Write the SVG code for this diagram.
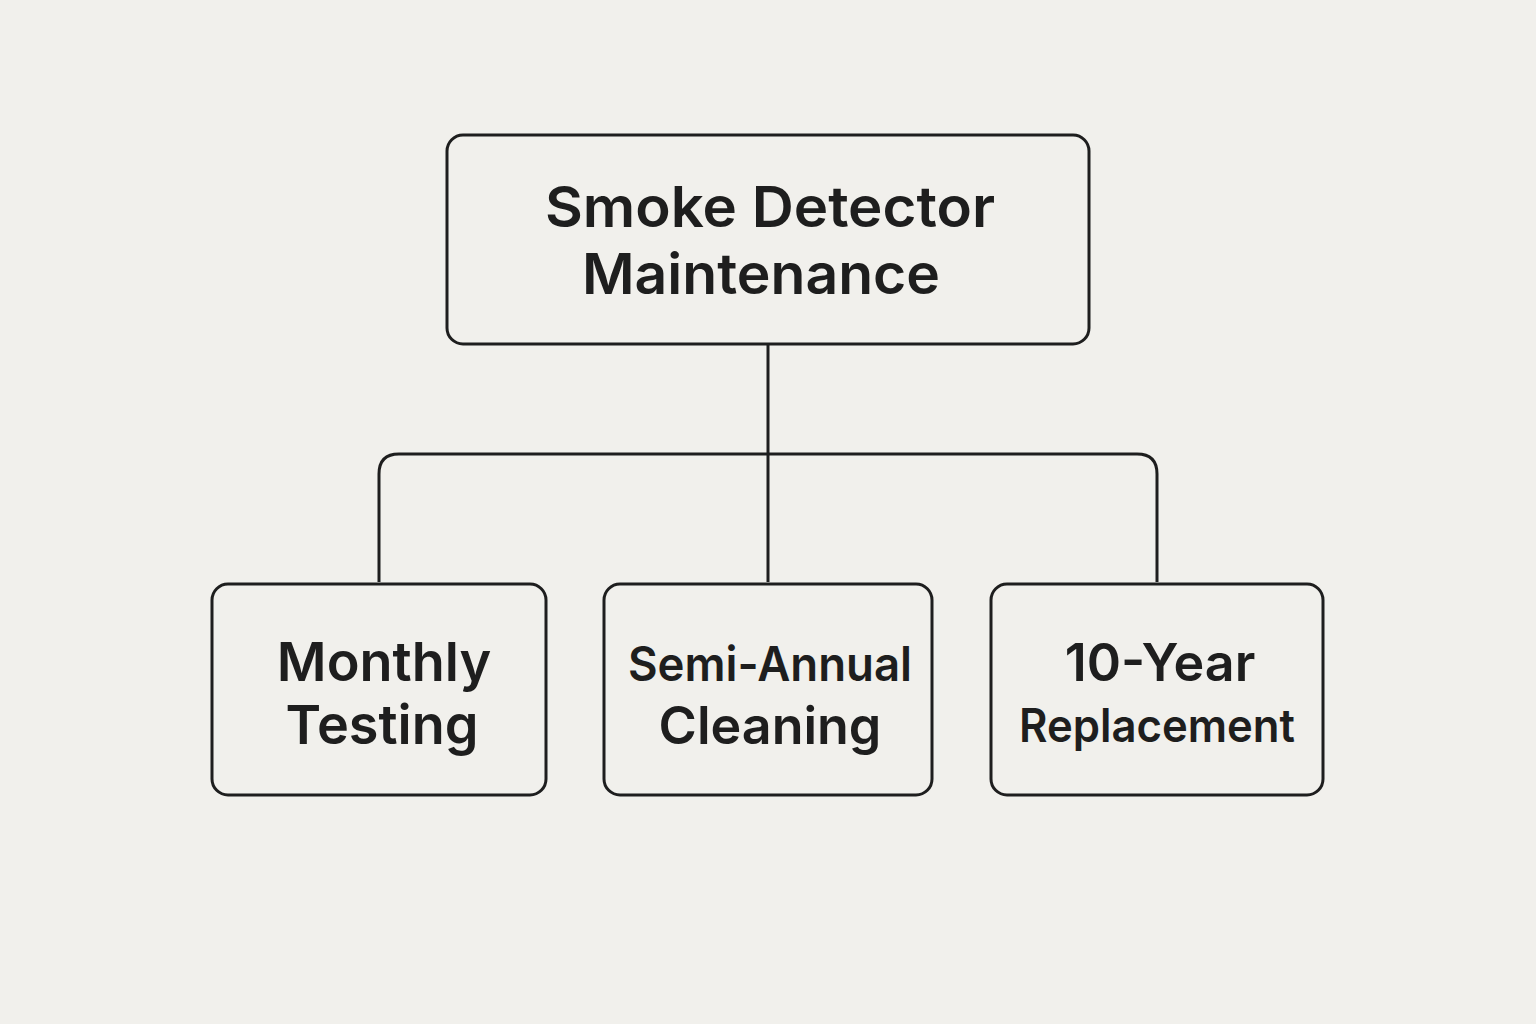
<svg xmlns="http://www.w3.org/2000/svg" width="1536" height="1024" viewBox="0 0 1536 1024">
<style>
.box{fill:#f1f0ec;stroke:#1e1e1e;stroke-width:3}
.t{font-family:Inter,"Liberation Sans",sans-serif;font-weight:600;fill:#1e1e1e;text-anchor:middle}
.c{fill:none;stroke:#1e1e1e;stroke-width:3}
</style>
<rect width="1536" height="1024" fill="#f1f0ec"/>
<g id="connectors">
<path class="c" d="M768 344V582"/>
<path class="c" d="M379 582V474q0-20 20-20H1137q20 0 20 20V582"/>
</g>
<g id="root"><rect class="box" x="447" y="135" width="642" height="209" rx="16"/>
<text class="t" x="770" y="227" font-size="56" textLength="450" lengthAdjust="spacingAndGlyphs">Smoke Detector</text>
<text class="t" x="761" y="294" font-size="56" textLength="358" lengthAdjust="spacingAndGlyphs">Maintenance</text></g>
<g id="monthly"><rect class="box" x="212" y="584" width="334" height="211" rx="16"/>
<text class="t" x="384" y="681" font-size="54">Monthly</text>
<text class="t" x="382" y="744" font-size="54">Testing</text></g>
<g id="semi"><rect class="box" x="604" y="584" width="328" height="211" rx="16"/>
<text class="t" x="770" y="681" font-size="48" textLength="284" lengthAdjust="spacingAndGlyphs">Semi-Annual</text>
<text class="t" x="770" y="744" font-size="52">Cleaning</text></g>
<g id="replace"><rect class="box" x="991" y="584" width="332" height="211" rx="16"/>
<text class="t" x="1160" y="681" font-size="52">10-Year</text>
<text class="t" x="1157" y="742" font-size="46" textLength="276" lengthAdjust="spacingAndGlyphs">Replacement</text></g>
</svg>
